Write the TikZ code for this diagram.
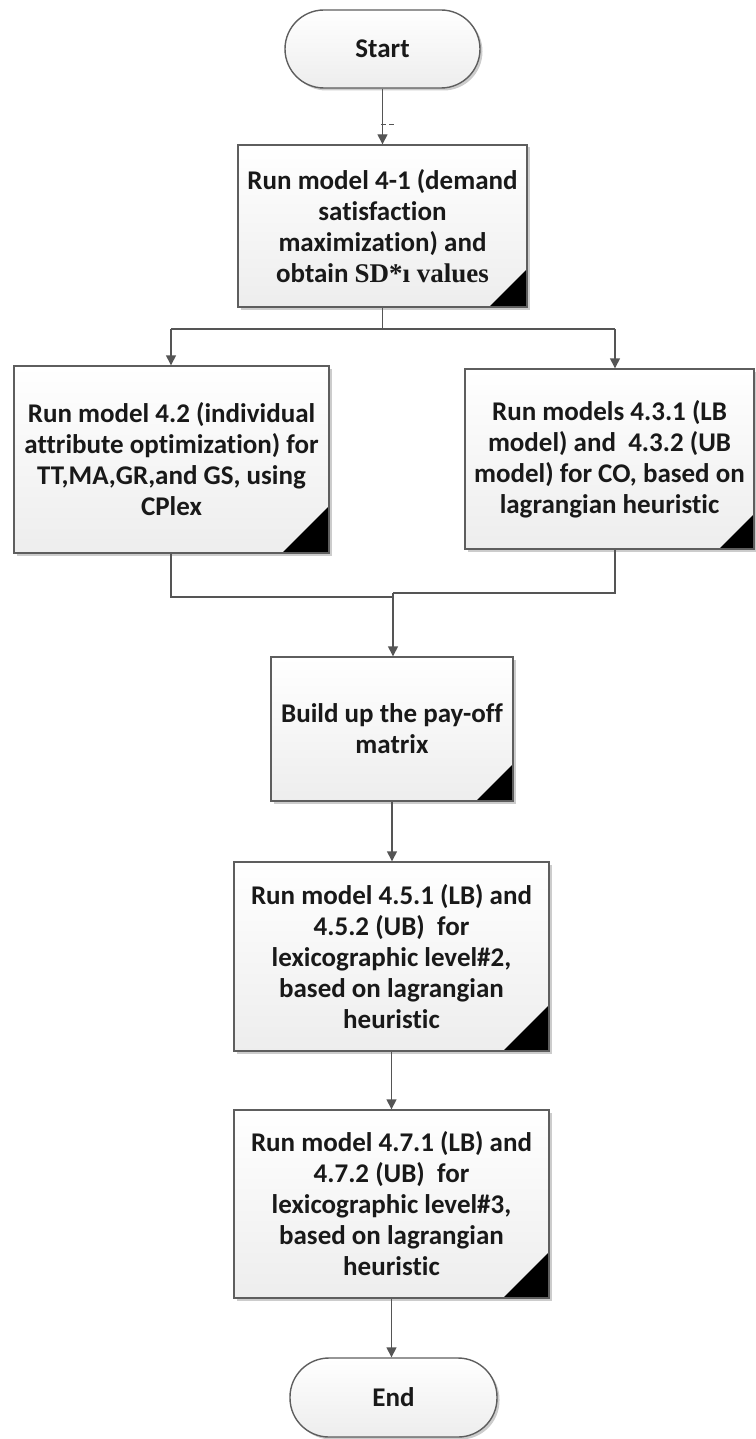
\documentclass[tikz,border=0pt]{standalone}
\usepackage{fontspec}
\setmainfont{Carlito}[RawFeature={-liga;-clig;-dlig}]
\newfontfamily\tnr{Liberation Serif}
\usetikzlibrary{arrows.meta,shadows,calc}
\definecolor{linegray}{HTML}{555555}
\definecolor{boxgray}{HTML}{5E5E5E}
\begin{document}
\begin{tikzpicture}[x=1pt,y=-1pt,
  every node/.style={font=\bfseries\fontsize{27}{31}\selectfont, align=center, inner sep=0pt, text=black!90},
  boxbase/.style={draw=boxgray, line width=1.4pt, shading=axis, top color=white, bottom color=black!7,
     drop shadow={shadow xshift=2.5pt, shadow yshift=-2.5pt, opacity=0.2, fill=black}},
  procbox/.style 2 args={boxbase, rectangle, minimum width=#1, minimum height=#2},
  flagcorner/.style={path picture={\fill[black] (path picture bounding box.south east) -- ++(-#1,0pt) -- ++(#1,#1) -- cycle;}},
  termbox/.style 2 args={boxbase, rectangle, rounded corners=39pt, minimum width=#1, minimum height=#2},
  conn/.style={draw=linegray, line width=1.4pt},
  arr/.style={conn, -{Triangle[width=10pt,length=10pt]}}
]
\useasboundingbox (0,0) rectangle (755,1439);
\fill[white] (0,0) rectangle (755,1439);

\node[termbox={195pt}{78pt}] (start) at (382.5,49) {Start};
\node[procbox={289pt}{162pt}, flagcorner=38pt] (b1) at (382.5,226)
  {Run model 4-1 (demand\\satisfaction\\maximization) and\\obtain {\tnr SD*ı values}};
\node[procbox={315pt}{187pt}, flagcorner=47pt] (bL) at (171.5,459.5)
  {Run model 4.2 (individual\\attribute optimization) for\\TT,MA,GR,and GS, using\\CPlex};
\node[procbox={289pt}{180pt}, flagcorner=35pt] (bR) at (609.5,459)
  {Run models 4.3.1 (LB\\model) and\ \ 4.3.2 (UB\\model) for CO, based on\\lagrangian heuristic};
\node[procbox={242pt}{144pt}, flagcorner=37pt] (build) at (392,729)
  {Build up the pay-off\\matrix};
\node[procbox={315pt}{189pt}, flagcorner=46pt] (b4) at (391.5,956.5)
  {Run model 4.5.1 (LB) and\\4.5.2 (UB)\ \ for\\lexicographic level\#2,\\based on lagrangian\\heuristic};
\node[procbox={315pt}{188pt}, flagcorner=46pt] (b5) at (391.5,1204)
  {Run model 4.7.1 (LB) and\\4.7.2 (UB)\ \ for\\lexicographic level\#3,\\based on lagrangian\\heuristic};
\node[termbox={207pt}{79pt}] (end) at (393.5,1397.5) {End};

% connectors
\draw[arr] (start.south) -- (b1.north);
\draw[linegray, line width=1pt, dash pattern=on 5pt off 3pt] (381,125) -- (396,125);

\coordinate (split) at (382.5,329);
\coordinate (sL) at (171,329);
\coordinate (sR) at (615,329);
\draw[conn] (b1.south) -- (split);
\draw[conn] (sL) -- (sR);
\draw[arr] (sL) -- (sL |- bL.north);
\draw[arr] (sR) -- (sR |- bR.north);

\coordinate (jL) at (171,597);
\coordinate (jR) at (615,593);
\coordinate (jM) at (393,593);
\draw[conn] (sL |- bL.south) -- (jL) -- (jL -| jM);
\draw[conn] (sR |- bR.south) -- (jR) -- (jM);
\draw[arr] (jM) -- (jM |- build.north);

\draw[arr] (build.south) -- (b4.north -| build.south);
\draw[arr] (b4.south) -- (b5.north);
\draw[arr] (b5.south) -- (end.north -| b5.south);
\end{tikzpicture}
\end{document}
